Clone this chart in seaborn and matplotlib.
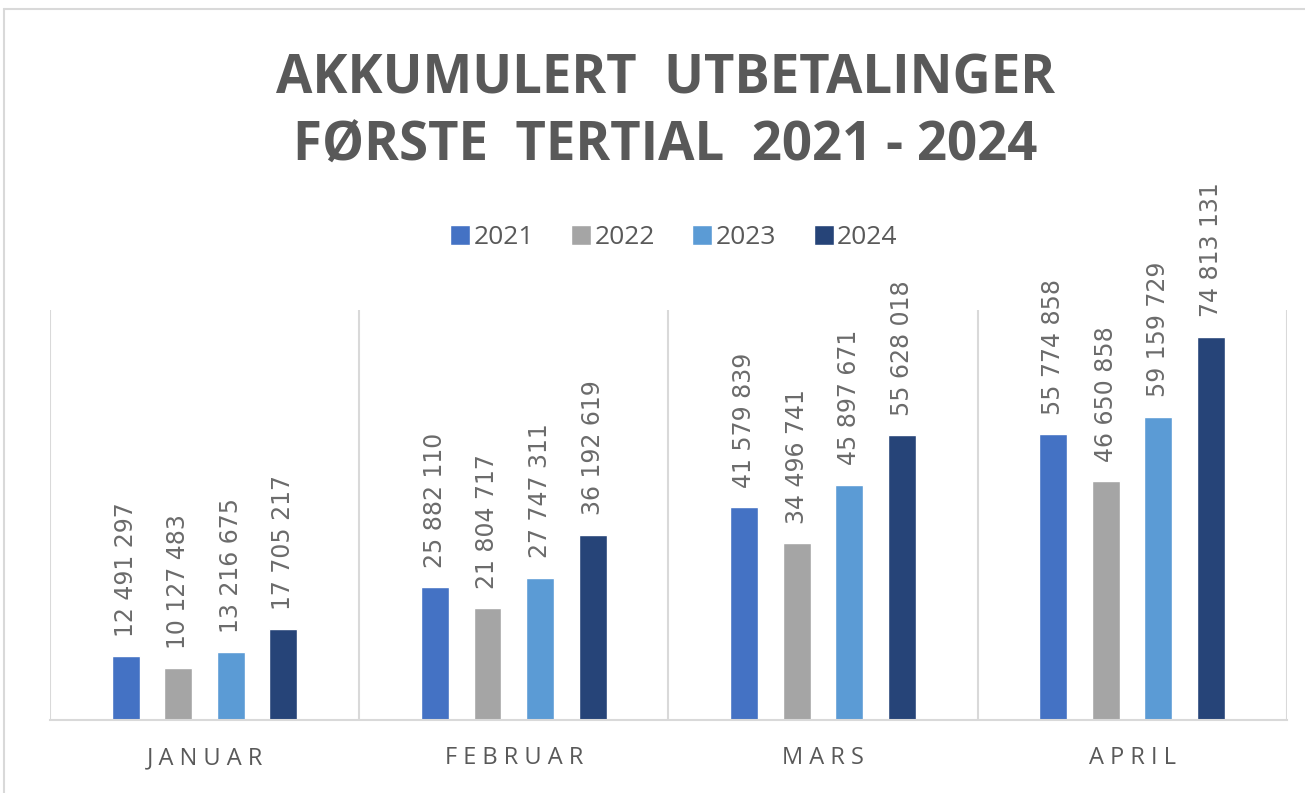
import matplotlib
matplotlib.use("Agg")
import matplotlib.pyplot as plt
import seaborn as sns
import pandas as pd
from matplotlib.lines import Line2D

## data
months = ["JANUAR", "FEBRUAR", "MARS", "APRIL"]
years = ["2021", "2022", "2023", "2024"]
v2021 = [12491297, 25882110, 41579839, 55774858]
v2022 = [10127483, 21804717, 34496741, 46650858]
v2023 = [13216675, 27747311, 45897671, 59159729]
v2024 = [17705217, 36192619, 55628018, 74813131]
colors = ["#4472C4", "#A5A5A5", "#5B9BD5", "#264478"]

rows = []
for yr, vals in zip(years, [v2021, v2022, v2023, v2024]):
    for m, v in zip(months, vals):
        rows.append({"month": m, "year": yr, "value": v})
df = pd.DataFrame(rows)

sns.set_style("white")
plt.rcParams["font.family"] = ["Open Sans", "DejaVu Sans"]
txt = "#595959"
grid = "#D9D9D9"

fig = plt.figure(figsize=(13.05, 7.93), dpi=100)
ax = fig.add_axes([0.0383, 0.092, 0.9477, 0.517])

sns.barplot(data=df, x="month", y="value", hue="year", palette=colors,
            saturation=1, width=0.68, gap=0.47, ax=ax, legend=False)

ax.set_ylim(0, 80_000_000)
ax.set_xlim(-0.5, 3.5)
ax.vlines([-0.5, 0.5, 1.5, 2.5, 3.5], 0, 80_000_000, color=grid, lw=1.5, zorder=0)

# verdier over søylene
def fmt(v):
    return f"{v:,}".replace(",", " ")

for cont in ax.containers:
    for bar in cont:
        h = bar.get_height()
        ax.annotate(fmt(int(round(h))), (bar.get_x() + bar.get_width() / 2, h),
                    xytext=(0, 14), textcoords="offset points",
                    rotation=90, ha="center", va="bottom",
                    fontsize=17, color="#6b6b6b", family="DejaVu Sans")

for s in ["top", "right", "left"]:
    ax.spines[s].set_visible(False)
ax.spines["bottom"].set_color(grid)
ax.spines["bottom"].set_linewidth(1.5)
ax.set_yticks([])
ax.set_xlabel("")
ax.set_ylabel("")
ax.set_xticks(range(len(months)))
ax.set_xticklabels([" ".join(m) for m in months], fontsize=17, color=txt)
ax.tick_params(axis="x", length=0, pad=19)

# legend
handles = [Line2D([0], [0], marker="s", color="w", markerfacecolor=c,
                  markersize=15, linestyle="") for c in colors]
fig.legend(handles, years, loc="center", bbox_to_anchor=(0.516, 0.70), ncol=4,
           frameon=False, fontsize=19, labelcolor=txt, handletextpad=0.1,
           columnspacing=1.4, handlelength=0.8)

# tittel
fig.text(0.51, 0.858, "AKKUMULERT  UTBETALINGER\nFØRSTE  TERTIAL  2021 - 2024",
         ha="center", va="center", fontsize=38, fontweight="bold", color=txt,
         linespacing=1.32)

# ramme rundt diagrammet
fig.add_artist(Line2D([0.003, 1.0], [0.989, 0.989], color=grid, lw=1.5,
                      transform=fig.transFigure))
fig.add_artist(Line2D([0.003, 0.003], [0.0, 0.989], color=grid, lw=1.5,
                      transform=fig.transFigure))

fig.savefig("out.png", dpi=100, facecolor="white")
